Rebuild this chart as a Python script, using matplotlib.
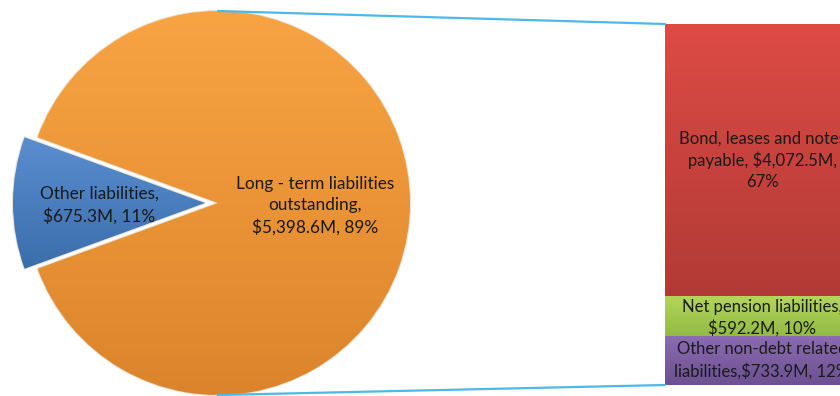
import numpy as np
import matplotlib
matplotlib.use("Agg")
import matplotlib.pyplot as plt
from matplotlib.colors import LinearSegmentedColormap
from matplotlib.patches import ConnectionPatch

# ── Data ───────────────────────────────────────────────────────
pie_labels = ["Long - term liabilities\noutstanding,\n$5,398.6M, 89%",
              "Other liabilities,\n$675.3M, 11%"]
pie_values = [5398.6, 675.3]

bar_labels = ["Other non-debt related\nliabilities,$733.9M, 12%",
              "Net pension liabilities,\n$592.2M, 10%",
              "Bond, leases and notes\npayable, $4,072.5M,\n67%"]
bar_values = [733.9, 592.2, 4072.5]

# (top colour, bottom colour) for the gradients
PIE_COLORS = [("#F8A443", "#DC842B"), ("#5A8ED0", "#3B6DAB")]
BAR_COLORS = [("#8C6CB2", "#6C5090"), ("#B3D65A", "#93BA44"), ("#DD4B45", "#B23A36")]
LINE_C = "#4DB8EC"
TEXT_C = "#1A1A1A"
FONT = "Lato"
FS = 12.4
FS_BAR = 12.0

W, H = 840, 396
CX, CY, R = 218, 193, 192      # pie centre / radius in pixels
EXPLODE = 13


def fill_gradient(ax, patch, top, bottom):
    bb = patch.get_window_extent().transformed(ax.transData.inverted())
    cmap = LinearSegmentedColormap.from_list("g", [top, bottom])
    grad = np.linspace(0, 1, 256).reshape(-1, 1)
    im = ax.imshow(grad, cmap=cmap, aspect="auto", interpolation="bilinear",
                   extent=(bb.x0, bb.x1, bb.y0, bb.y1), origin="upper", zorder=patch.get_zorder())
    im.set_clip_path(patch)
    patch.set_facecolor("none")


fig = plt.figure(figsize=(W / 100, H / 100), dpi=100)
fig.patch.set_facecolor("white")

# ── Pie ────────────────────────────────────────────────────────
ax = fig.add_axes([0, 0, 1, 1])
start = 180 + pie_values[1] / sum(pie_values) * 360 / 2
wedges, _ = ax.pie(pie_values, center=(CX, CY), radius=R, startangle=start,
                   explode=[0, EXPLODE], colors=[c[0] for c in PIE_COLORS],
                   wedgeprops=dict(edgecolor="#E9E4DA", linewidth=1.5))
for w in wedges:
    w.set_zorder(3)
ax.set_xlim(0, W)
ax.set_ylim(0, H)
fig.canvas.draw()
for w, (top, bot) in zip(wedges, PIE_COLORS):
    fill_gradient(ax, w, top, bot)
ax.set_xlim(0, W)
ax.set_ylim(0, H)
ax.set_aspect("equal")
ax.axis("off")

ax.text(CX + 97, CY - 3, pie_labels[0], ha="center", va="center", fontsize=FS,
        family=FONT, color=TEXT_C, linespacing=1.4, zorder=5)
ax.text(CX - 119, CY - 2, pie_labels[1], ha="center", va="center", fontsize=FS,
        family=FONT, color=TEXT_C, linespacing=1.4, zorder=5)

# ── Stacked bar ────────────────────────────────────────────────
ax2 = fig.add_axes([665 / W, 11 / H, 194 / W, 361 / H])
total = sum(bar_values)
bottom = 0
bars = []
offsets = [0, -25, 0]   # small nudge of the label centres, in data units
for val, lab, (top, bot), off in zip(bar_values, bar_labels, BAR_COLORS, offsets):
    b = ax2.bar(0, val, width=1, bottom=bottom, color=top,
                edgecolor="#EDEDED", linewidth=1.2, zorder=2)[0]
    bars.append((b, top, bot))
    ax2.text(0, bottom + val / 2 + off, lab, ha="center", va="center", fontsize=FS_BAR,
             family=FONT, color=TEXT_C, linespacing=1.38, zorder=5, clip_on=False)
    bottom += val
ax2.set_xlim(-0.5, 0.5)
ax2.set_ylim(0, total)
fig.canvas.draw()
for b, top, bot in bars:
    fill_gradient(ax2, b, top, bot)
ax2.set_xlim(-0.5, 0.5)
ax2.set_ylim(0, total)
ax2.axis("off")

# ── Connector lines ────────────────────────────────────────────
for ang, yb in [(90, total), (-90, 0)]:
    xp = CX + R * np.cos(np.radians(ang))
    yp = CY + R * np.sin(np.radians(ang))
    con = ConnectionPatch(xyA=(-0.5, yb), coordsA=ax2.transData,
                          xyB=(xp, yp), coordsB=ax.transData,
                          color=LINE_C, linewidth=1.6)
    fig.add_artist(con)
    con.set_zorder(0.5)

fig.savefig("out.png", dpi=100, facecolor="white")
